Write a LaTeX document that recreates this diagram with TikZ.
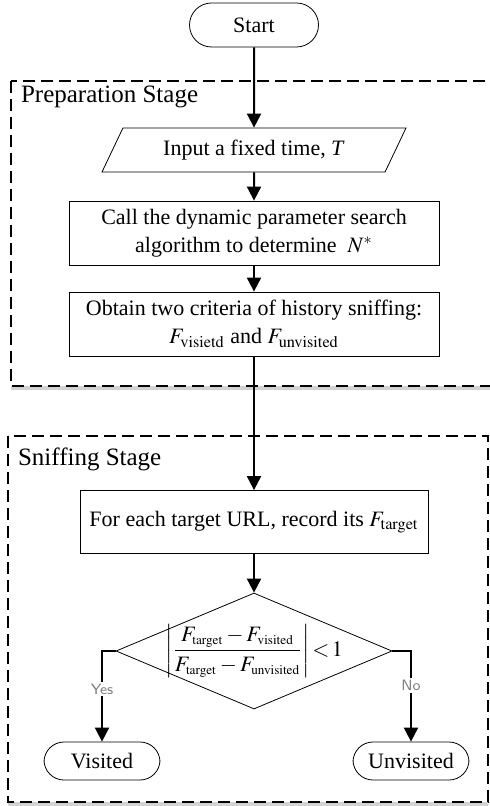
\documentclass[tikz,border=0pt]{standalone}
\usepackage{amsmath}
\usepackage{mathptmx}
\usepackage[no-math]{fontspec}
\setmainfont{Liberation Serif}
\usetikzlibrary{arrows,arrows.meta,shapes,calc,positioning,shadows}

\newcommand{\sub}[1]{_{\scriptscriptstyle\mathrm{#1}}}

\begin{document}
\begin{tikzpicture}[x=0.5pt, y=-0.5pt,
  block/.style={rectangle, draw, fill=white, minimum width=185pt, minimum height=32pt, align=center, font=\fontsize{11}{14}\selectfont},
  term/.style={rectangle, draw, fill=white, rounded corners=10pt, minimum height=19pt, minimum width=58pt, font=\fontsize{11}{13}\selectfont},
  io/.style={trapezium, draw, fill=white, trapezium left angle=58, trapezium right angle=122, trapezium stretches body, minimum width=152pt, minimum height=22pt, font=\fontsize{11}{13}\selectfont},
  decide/.style={diamond, draw, fill=white, minimum width=138pt, minimum height=58pt, inner sep=0pt},
  stage/.style={draw, dashed, line width=0.6pt, dash pattern=on 6pt off 3pt, fill=white, drop shadow={shadow xshift=0pt, shadow yshift=-2pt, opacity=0.35}},
  stagename/.style={anchor=west, font=\fontsize{12.5}{14}\selectfont},
  answer/.style={fill=white, text=gray, inner sep=1pt, font=\sffamily\fontsize{7.5}{8}\selectfont},
  flow/.style={-{Triangle[width=7pt,length=7pt]}, line width=1pt},
  node distance=40mm]
  \useasboundingbox (0,0) rectangle (489,806);

  % dashed stage frames
  \draw[stage] (11,81) rectangle (492,386);
  \node[stagename] (prepname) at (14,97) {Preparation Stage};
  \draw[stage] (8,436) rectangle (488,802);
  \node[stagename] (sniffname) at (11,459) {Sniffing Stage};

  \node[term, minimum width=64.5pt, minimum height=22pt, rounded corners=11pt] (start) at (254,25) {Start};
  \node[io, below of=start, node distance=62.5pt] (input) {Input a fixed time, \textit{T}};
  \node[block, below of=input, node distance=41.5pt] (call) {Call the dynamic parameter search\\algorithm to determine\enspace $N^{*}$};
  \node[block, below of=call, node distance=45.5pt] (obtain) {Obtain two criteria of history sniffing:\\$F_{\mathrm{visietd}}$ and $F_{\mathrm{unvisited}}$};
  \node[block, below of=obtain, node distance=99pt, minimum width=174pt, minimum height=31.5pt] (target) {For each target URL, record its $F_{\mathrm{target}}$};
  \node[decide, below of=target, node distance=64.5pt] (dec) {};
  \node[font=\fontsize{11}{13}\selectfont, inner sep=0pt] (rule) at (dec) {$\left|\dfrac{F\sub{target}-F\sub{visited}}{F\sub{target}-F\sub{unvisited}}\right|\!<\!1$};
  \node[term, below of=dec, node distance=55pt, xshift=-76pt] (visited) {Visited};
  \node[term, below of=dec, node distance=55pt, xshift=78.5pt] (unvisited) {Unvisited};

  \draw[flow] (start) -- (input);
  \draw[flow] (input) -- (call);
  \draw[flow] (call) -- (obtain);
  \draw[flow] (obtain) -- (target);
  \draw[flow] (target) -- (dec);
  \draw[flow] (dec.west) -| node[answer, pos=0.71] {Yes} (visited);
  \draw[flow] (dec.east) -| node[answer, pos=0.69] {No} (unvisited);

\end{tikzpicture}
\end{document}
